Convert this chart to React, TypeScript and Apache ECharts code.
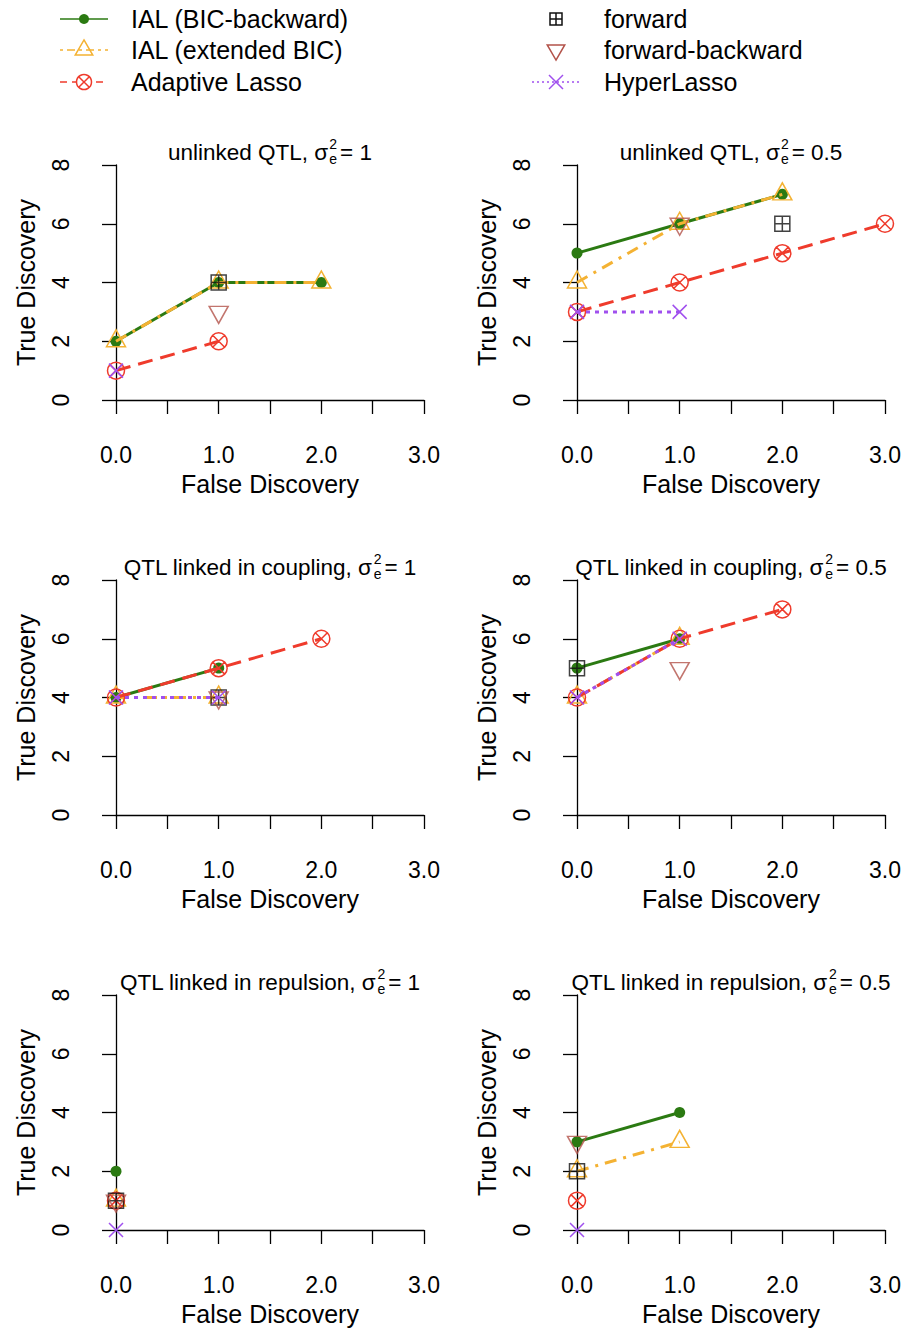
import React, { useEffect, useRef } from 'react';
import * as echarts from 'echarts';

const FONT = "'Liberation Sans', Arial, Helvetica, sans-serif";

const methodNames = ['IAL (BIC-backward)', 'IAL (extended BIC)', 'Adaptive Lasso', 'forward', 'forward-backward', 'HyperLasso'];
const methodColors = ['#2b7a12', '#f4b233', '#ef3b2c', '#111111', '#b3534a', '#a050ee'];

const panelSettings = ['unlinked QTL', 'QTL linked in coupling', 'QTL linked in repulsion'];
const sigmaValues = ['1', '0.5'];
const xAxisTitle = 'False Discovery';
const yAxisTitle = 'True Discovery';

// [false discovery, true discovery] per panel (row-major: row1col1, row1col2, row2col1, ...)
const ialBicData = [
  [[0, 2], [1, 4], [2, 4]],
  [[0, 5], [1, 6], [2, 7]],
  [[0, 4], [1, 5]],
  [[0, 5], [1, 6]],
  [[0, 2]],
  [[0, 3], [1, 4]],
];
const ialExtData = [
  [[0, 2], [1, 4], [2, 4]],
  [[0, 4], [1, 6], [2, 7]],
  [[0, 4], [1, 4]],
  [[0, 4], [1, 6]],
  [[0, 1]],
  [[0, 2], [1, 3]],
];
const adaptiveLassoData = [
  [[0, 1], [1, 2]],
  [[0, 3], [1, 4], [2, 5], [3, 6]],
  [[0, 4], [1, 5], [2, 6]],
  [[0, 4], [1, 6], [2, 7]],
  [[0, 1]],
  [[0, 1]],
];
const forwardData = [[[1, 4]], [[2, 6]], [[1, 4]], [[0, 5]], [[0, 1]], [[0, 2]]];
const forwardBackwardData = [[[1, 3]], [[1, 6]], [[1, 4]], [[1, 5]], [[0, 1]], [[0, 3]]];
const hyperLassoData = [
  [[0, 1]],
  [[0, 3], [1, 3]],
  [[0, 4], [1, 4]],
  [[0, 4], [1, 6]],
  [[0, 0]],
  [[0, 0]],
];

const methodData = [ialBicData, ialExtData, adaptiveLassoData, forwardData, forwardBackwardData, hyperLassoData];
const methodKinds = ['dot', 'tri', 'circlex', 'sqplus', 'tridown', 'cross'];
const methodIsLine = [true, true, true, false, false, true];
const methodDash: any[] = ['solid', [12, 7, 3, 7], [15, 8], 'solid', 'solid', [4, 5]];
const legendDash: any[] = [null, [3, 4, 8, 4], [7, 5], null, null, [2, 3]];

// layout
const colX0 = [116, 577];
const rowTop = [165, 580, 995];
const gridW = 308;
const gridH = 235;

const SYM: Record<string, string> = {
  tri: 'path://M0,-1.555L1.347,0.778L-1.347,0.778Z',
  tridown: 'path://M0,1.555L1.347,-0.778L-1.347,-0.778Z',
  circlex: 'path://M0,-1A1,1,0,1,1,0,1A1,1,0,1,1,0,-1ZM-0.707,-0.707L0.707,0.707M0.707,-0.707L-0.707,0.707',
  sqplus: 'path://M-1,-1L1,-1L1,1L-1,1ZM0,-1L0,1M-1,0L1,0',
  cross: 'path://M-1,-1L1,1M1,-1L-1,1',
};

function symbolSpec(kind: string, color: string) {
  const open = { color: 'rgba(0,0,0,0)', borderColor: color, borderWidth: 1.5 };
  switch (kind) {
    case 'dot':
      return { symbol: 'circle', symbolSize: 11, itemStyle: { color, borderWidth: 0 } };
    case 'tri':
      return { symbol: SYM.tri, symbolSize: [19, 17], symbolOffset: [0, -3], itemStyle: open };
    case 'tridown':
      return { symbol: SYM.tridown, symbolSize: [19, 17], symbolOffset: [0, 3], itemStyle: open };
    case 'circlex':
      return { symbol: SYM.circlex, symbolSize: 17, itemStyle: open };
    case 'sqplus':
      return { symbol: SYM.sqplus, symbolSize: 15, itemStyle: open };
    default:
      return { symbol: SYM.cross, symbolSize: 14, itemStyle: open };
  }
}

function legendSymbol(kind: string, cx: number, cy: number, color: string): any[] {
  const st = { fill: 'none', stroke: color, lineWidth: 1.5 };
  const s = 6.5;
  switch (kind) {
    case 'dot':
      return [{ type: 'circle', shape: { cx, cy, r: 5 }, style: { fill: color } }];
    case 'tri':
      return [{ type: 'polygon', shape: { points: [[cx, cy - 1.555 * s], [cx + 1.347 * s, cy + 0.778 * s], [cx - 1.347 * s, cy + 0.778 * s]] }, style: st }];
    case 'tridown':
      return [{ type: 'polygon', shape: { points: [[cx, cy + 1.555 * s], [cx + 1.347 * s, cy - 0.778 * s], [cx - 1.347 * s, cy - 0.778 * s]] }, style: st }];
    case 'circlex':
      return [
        { type: 'circle', shape: { cx, cy, r: 7.5 }, style: { ...st, fill: '#fff' } },
        { type: 'line', shape: { x1: cx - 5.3, y1: cy - 5.3, x2: cx + 5.3, y2: cy + 5.3 }, style: st },
        { type: 'line', shape: { x1: cx + 5.3, y1: cy - 5.3, x2: cx - 5.3, y2: cy + 5.3 }, style: st },
      ];
    case 'sqplus':
      return [
        { type: 'rect', shape: { x: cx - 6, y: cy - 6, width: 12, height: 12 }, style: st },
        { type: 'line', shape: { x1: cx, y1: cy - 6, x2: cx, y2: cy + 6 }, style: st },
        { type: 'line', shape: { x1: cx - 6, y1: cy, x2: cx + 6, y2: cy }, style: st },
      ];
    default:
      return [
        { type: 'line', shape: { x1: cx - 7, y1: cy - 7, x2: cx + 7, y2: cy + 7 }, style: st },
        { type: 'line', shape: { x1: cx + 7, y1: cy - 7, x2: cx - 7, y2: cy + 7 }, style: st },
      ];
  }
}

let measureCtx: CanvasRenderingContext2D | null = null;
function measure(text: string, size: number) {
  if (!measureCtx) measureCtx = document.createElement('canvas').getContext('2d');
  if (!measureCtx) return text.length * size * 0.5;
  measureCtx.font = `${size}px 'Liberation Sans'`;
  return measureCtx.measureText(text).width;
}

function textEl(text: string, x: number, y: number, size: number, align = 'left') {
  return {
    type: 'text',
    x,
    y,
    silent: true,
    style: {
      text,
      fontSize: size,
      fontFamily: FONT,
      fill: '#000',
      align,
      textAlign: align,
      verticalAlign: 'middle',
      textVerticalAlign: 'middle',
    },
  };
}

export default function App() {
  const ref = useRef<HTMLDivElement>(null);
  useEffect(() => {
    if (!ref.current) return;
    const chart = echarts.init(ref.current, undefined, { renderer: 'svg' });

    const grids: any[] = [];
    const xAxes: any[] = [];
    const yAxes: any[] = [];
    const series: any[] = [];
    const graphics: any[] = [];
    const axisLine = { show: true, lineStyle: { color: '#000', width: 1.3 } };

    for (let r = 0; r < 3; r++) {
      for (let c = 0; c < 2; c++) {
        const g = r * 2 + c;
        grids.push({ left: colX0[c], top: rowTop[r], width: gridW, height: gridH });
        xAxes.push({
          gridIndex: g,
          type: 'value',
          min: 0,
          max: 3,
          interval: 0.5,
          offset: 11,
          axisLine,
          axisTick: { show: true, inside: false, length: 14, lineStyle: { color: '#000', width: 1.3 } },
          axisLabel: {
            interval: 0,
            margin: 32,
            fontSize: 23,
            fontFamily: FONT,
            color: '#000',
            formatter: (v: number) => (Math.abs(v - Math.round(v)) < 1e-9 ? v.toFixed(1) : ''),
          },
          splitLine: { show: false },
          name: xAxisTitle,
          nameLocation: 'middle',
          nameGap: 60,
          nameTextStyle: { fontSize: 25, fontFamily: FONT, color: '#000' },
        });
        yAxes.push({
          gridIndex: g,
          type: 'value',
          min: 0,
          max: 8,
          interval: 2,
          offset: 12,
          axisLine,
          axisTick: { show: true, inside: false, length: 14, lineStyle: { color: '#000', width: 1.3 } },
          axisLabel: { rotate: 90, margin: 32, fontSize: 23, fontFamily: FONT, color: '#000' },
          splitLine: { show: false },
          name: yAxisTitle,
          nameLocation: 'middle',
          nameGap: 66,
          nameTextStyle: { fontSize: 25, fontFamily: FONT, color: '#000' },
        });

        for (let m = 0; m < methodNames.length; m++) {
          const color = methodColors[m];
          const sym = symbolSpec(methodKinds[m], color);
          const base: any = {
            name: methodNames[m],
            xAxisIndex: g,
            yAxisIndex: g,
            data: methodData[m][g],
            clip: false,
            silent: true,
            emphasis: { disabled: true },
            z: 2 + m * 0.01,
            ...sym,
          };
          if (methodIsLine[m]) {
            series.push({
              ...base,
              type: 'line',
              showAllSymbol: true,
              lineStyle: { color, width: 3, type: methodDash[m] },
            });
          } else {
            series.push({ ...base, type: 'scatter' });
          }
        }

        // panel title with sigma_e^2
        const cx = colX0[c] + gridW / 2;
        const cy = rowTop[r] - 13;
        const main = `${panelSettings[r]}, σ`;
        const rest = `= ${sigmaValues[c]}`;
        const wMain = measure(main, 22.5);
        const wSS = Math.max(measure('2', 14), measure('e', 14));
        const wRest = measure(rest, 22.5);
        const total = wMain + 1 + wSS + 3 + wRest;
        const x0 = cx - total / 2;
        graphics.push(textEl(main, x0, cy, 22.5));
        graphics.push(textEl('2', x0 + wMain + 1, cy - 8.5, 14));
        graphics.push(textEl('e', x0 + wMain + 1, cy + 7, 14));
        graphics.push(textEl(rest, x0 + wMain + 1 + wSS + 3, cy, 22.5));
      }
    }

    // legend
    const legendRows = [19, 50, 82];
    for (let m = 0; m < methodNames.length; m++) {
      const col = m < 3 ? 0 : 1;
      const row = m % 3;
      const cy = legendRows[row];
      const sx = col ? 556 : 84;
      const tx = col ? 604 : 131;
      if (methodIsLine[m]) {
        graphics.push({
          type: 'line',
          silent: true,
          shape: { x1: sx - 24, y1: cy, x2: sx + 24, y2: cy },
          style: { stroke: methodColors[m], lineWidth: 1.6, lineDash: legendDash[m] || undefined },
        });
      }
      graphics.push(...legendSymbol(methodKinds[m], sx, cy, methodColors[m]));
      graphics.push(textEl(methodNames[m], tx, cy, 25));
    }

    chart.setOption({
      animation: false,
      backgroundColor: '#fff',
      grid: grids,
      xAxis: xAxes,
      yAxis: yAxes,
      series,
      graphic: { elements: graphics },
    });
    return () => chart.dispose();
  }, []);

  return <div ref={ref} style={{ position: 'absolute', left: 0, top: 0, width: 907, height: 1338 }} />;
}
